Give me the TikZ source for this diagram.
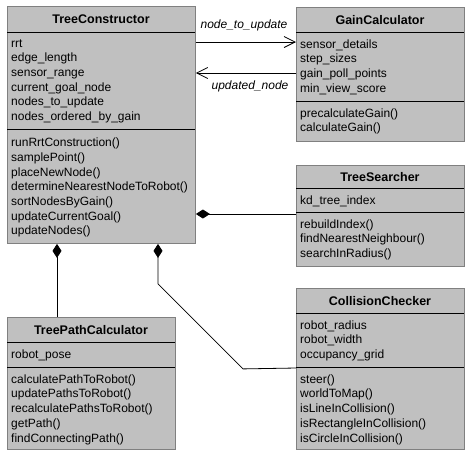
\documentclass[tikz,border=0pt]{standalone}
\usepackage{fontspec}
\setmainfont{Liberation Sans}
\usetikzlibrary{arrows.meta}
\definecolor{boxfill}{HTML}{C0C0C0}
\definecolor{boxedge}{HTML}{808080}
\tikzset{
  classbox/.style={draw=boxedge, fill=boxfill, line width=0.9pt, inner sep=0pt, anchor=north west},
  classtitle/.style={font=\fontsize{12.5}{15}\selectfont\bfseries, inner sep=0pt, anchor=base},
  members/.style={font=\fontsize{12}{14.7}\selectfont, align=left, inner sep=0pt, anchor=north west},
  divider/.style={draw=black, line width=0.9pt},
  msg/.style={line width=0.8pt, -{Straight Barb[length=11pt,width=11pt,line width=0.8pt]}},
  msglabel/.style={font=\fontsize{12}{14.7}\selectfont\itshape, inner sep=0pt, anchor=base},
  owns/.style={line width=0.8pt, {Diamond[length=14pt,width=9pt]}-}
}
\begin{document}
\begin{tikzpicture}[x=1pt,y=-1pt]
\useasboundingbox (0,0) rectangle (470,456);

% ---- TreeConstructor ----
\node[classbox, minimum width=188pt, minimum height=237pt] (tc) at (7,6) {};
\draw[divider] (7,32) -- (195,32);
\draw[divider] (7,129) -- (195,129);
\node[classtitle] (tc-title) at (101,23.5) {TreeConstructor};
\node[members] (tc-attr) at (11,36.7) {\strut rrt\\edge\_length\\sensor\_range\\current\_goal\_node\\nodes\_to\_update\\nodes\_ordered\_by\_gain};
\node[members] (tc-ops) at (11,136.2) {\strut runRrtConstruction()\\samplePoint()\\placeNewNode()\\determineNearestNodeToRobot()\\sortNodesByGain()\\updateCurrentGoal()\\updateNodes()};

% ---- GainCalculator ----
\node[classbox, minimum width=168pt, minimum height=134pt] (gc) at (296,7) {};
\draw[divider] (296,32) -- (464,32);
\draw[divider] (296,101) -- (464,101);
\node[classtitle] (gc-title) at (380,24) {GainCalculator};
\node[members] (gc-attr) at (300,37.7) {\strut sensor\_details\\step\_sizes\\gain\_poll\_points\\min\_view\_score};
\node[members] (gc-ops) at (300,106.7) {\strut precalculateGain()\\calculateGain()};

% ---- TreeSearcher ----
\node[classbox, minimum width=168pt, minimum height=101pt] (ts) at (296,165) {};
\draw[divider] (296,188) -- (464,188);
\draw[divider] (296,212) -- (464,212);
\node[classtitle] (ts-title) at (380,181) {TreeSearcher};
\node[members] (ts-attr) at (300,193.7) {\strut kd\_tree\_index};
\node[members] (ts-ops) at (300,217.7) {\strut rebuildIndex()\\findNearestNeighbour()\\searchInRadius()};

% ---- TreePathCalculator ----
\node[classbox, minimum width=168pt, minimum height=132pt] (tpc) at (7,317) {};
\draw[divider] (7,342) -- (175,342);
\draw[divider] (7,367) -- (175,367);
\node[classtitle] (tpc-title) at (91,334) {TreePathCalculator};
\node[members] (tpc-attr) at (11,347.7) {\strut robot\_pose};
\node[members] (tpc-ops) at (11,372.7) {\strut calculatePathToRobot()\\updatePathsToRobot()\\recalculatePathsToRobot()\\getPath()\\findConnectingPath()};

% ---- CollisionChecker ----
\node[classbox, minimum width=168pt, minimum height=161pt] (cc) at (296,288) {};
\draw[divider] (296,313) -- (464,313);
\draw[divider] (296,367) -- (464,367);
\node[classtitle] (cc-title) at (380,305) {CollisionChecker};
\node[members] (cc-attr) at (300,318.7) {\strut robot\_radius\\robot\_width\\occupancy\_grid};
\node[members] (cc-ops) at (300,372.7) {\strut steer()\\worldToMap()\\isLineInCollision()\\isRectangleInCollision()\\isCircleInCollision()};

% ---- messages between TreeConstructor and GainCalculator ----
\draw[msg] ([yshift=-36pt]tc.north east) -- ([yshift=-35pt]gc.north west);
\draw[msg] ([yshift=-66pt]gc.north west) -- ([yshift=-67pt]tc.north east);
\node[msglabel] (lbl-out) at (244,28) {node\_to\_update};
\node[msglabel] (lbl-back) at (250,89) {updated\_node};

% ---- compositions ----
\draw[owns] ([yshift=-208pt]tc.north east) -- ([yshift=-49pt]ts.north west);
\draw[owns] ([xshift=50pt]tc.south west) -- ([xshift=50pt]tpc.north west);
\draw[owns] ([xshift=151pt]tc.south west) -- ++(0,40) -- ++(85,85) -- ([yshift=-80pt]cc.north west);
\end{tikzpicture}
\end{document}
